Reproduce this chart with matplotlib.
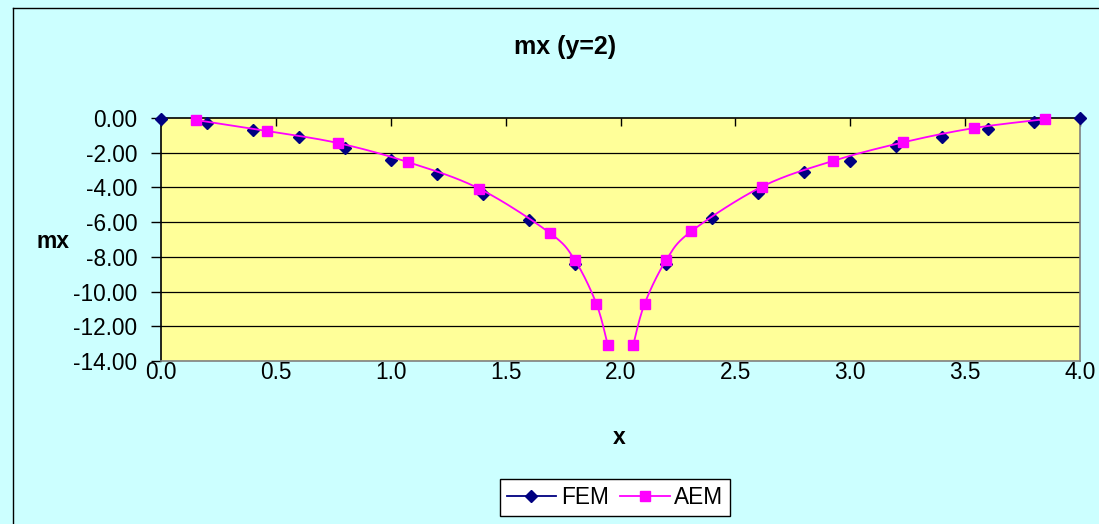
import numpy as np
import matplotlib
matplotlib.use("Agg")
import matplotlib.pyplot as plt
from matplotlib.lines import Line2D
from matplotlib.ticker import FuncFormatter

plt.rcParams['font.family'] = ['Liberation Sans', 'DejaVu Sans']

# ---- data ----
fem_x = [0.0, 0.2, 0.4, 0.6, 0.8, 1.0, 1.2, 1.4, 1.6, 1.8, 2.0,
         2.2, 2.4, 2.6, 2.8, 3.0, 3.2, 3.4, 3.6, 3.8, 4.0]
fem_y = [-0.05, -0.27, -0.69, -1.08, -1.71, -2.42, -3.21, -4.38, -5.85, -8.40, np.nan,
         -8.40, -5.75, -4.30, -3.11, -2.50, -1.60, -1.07, -0.66, -0.21, -0.01]

aem_x_left = [0.154, 0.462, 0.769, 1.077, 1.385, 1.692, 1.800, 1.895, 1.945]
aem_y_left = [-0.12, -0.75, -1.44, -2.55, -4.07, -6.62, -8.16, -10.70, -13.10]
aem_x_right = [2.055, 2.105, 2.200, 2.308, 2.615, 2.923, 3.231, 3.538, 3.846]
aem_y_right = [-13.10, -10.70, -8.16, -6.53, -3.96, -2.48, -1.40, -0.58, -0.07]

x_ticks = [0.0, 0.5, 1.0, 1.5, 2.0, 2.5, 3.0, 3.5, 4.0]
y_ticks = [0, -2, -4, -6, -8, -10, -12, -14]

title = "mx (y=2)"
xlabel = "x"
ylabel = "mx"
series_names = ["FEM", "AEM"]

NAVY = "#000080"
PINK = "#FF00FF"


def smooth(xs, ys, n=20):
    """Excel-like smoothed line (Catmull-Rom as cubic Bezier)."""
    P = np.column_stack([xs, ys]).astype(float)
    m = len(P)
    out = [P[0]]
    t = np.linspace(0, 1, n)[1:]
    for i in range(m - 1):
        p0 = P[i - 1] if i > 0 else P[i]
        p1 = P[i]
        p2 = P[i + 1]
        p3 = P[i + 2] if i + 2 < m else P[i + 1]
        c1 = p1 + (p2 - p0) / 6.0
        c2 = p2 - (p3 - p1) / 6.0
        for tt in t:
            b = ((1 - tt) ** 3) * p1 + 3 * ((1 - tt) ** 2) * tt * c1 \
                + 3 * (1 - tt) * tt ** 2 * c2 + tt ** 3 * p2
            out.append(b)
    out = np.array(out)
    return out[:, 0], out[:, 1]


W, H = 1099, 524
fig = plt.figure(figsize=(W / 100, H / 100), dpi=100, facecolor="#CCFFFF")

# chart-area border (only left/top edges visible in the picture)
bx, by = 12.5 / W, 1 - 7.5 / H
fig.add_artist(Line2D([bx, bx], [0, by], transform=fig.transFigure,
                      color="black", linewidth=1.0))
fig.add_artist(Line2D([bx, 1], [by, by], transform=fig.transFigure,
                      color="black", linewidth=1.0))

L, R, T, B = 161, 1080, 118, 361
ax = fig.add_axes([L / W, 1 - B / H, (R - L) / W, (B - T) / H])
ax.set_facecolor("#FFFF99")
ax.set_xlim(0, 4.0)
ax.set_ylim(-14, 0)

for v in y_ticks[1:-1]:
    ax.axhline(v, color="black", linewidth=0.9, zorder=1)

# FEM markers
ax.plot(fem_x, fem_y, linestyle="none", marker="D", markersize=6.2,
        color=NAVY, markeredgecolor=NAVY, clip_on=False, zorder=3)

# AEM smoothed lines + markers
for xs, ys in [(aem_x_left, aem_y_left), (aem_x_right, aem_y_right)]:
    sx, sy = smooth(xs, ys)
    ax.plot(sx, sy, color=PINK, linewidth=1.3, zorder=4, clip_on=False)
    ax.plot(xs, ys, linestyle="none", marker="s", markersize=6.8,
            color=PINK, markeredgecolor=PINK, clip_on=False, zorder=5)

# spines
ax.spines["top"].set_color("black")
ax.spines["left"].set_color("black")
ax.spines["right"].set_color("#808080")
ax.spines["bottom"].set_color("#808080")
for s in ax.spines.values():
    s.set_linewidth(1.2)
    s.set_zorder(2)

ax.set_xticks(x_ticks)
ax.set_xticklabels([f"{v:.1f}" for v in x_ticks])
ax.tick_params(axis="x", top=True, bottom=False, labelbottom=True,
               labeltop=False, direction="in", length=6, width=1,
               pad=0, labelsize=16.3, colors="black")
ax.set_yticks(y_ticks)
ax.yaxis.set_major_formatter(FuncFormatter(lambda v, p: f"{v:.2f}"))
ax.tick_params(axis="y", direction="out", length=7, width=1, pad=10,
               labelsize=16.3)

fig.text(565 / W, 1 - 47 / H, title, ha="center", va="center",
         fontsize=18, fontweight="bold")
fig.text(53 / W, 1 - 241 / H, ylabel, ha="center", va="center",
         fontsize=16.5, fontweight="bold")
fig.text(619 / W, 1 - 437 / H, xlabel, ha="center", va="center",
         fontsize=16.5, fontweight="bold")

handles = [
    Line2D([], [], color=NAVY, marker="D", markersize=6.2, linewidth=1.3),
    Line2D([], [], color=PINK, marker="s", markersize=6.8, linewidth=1.3),
]
leg = fig.legend(handles, series_names, loc="center",
                 bbox_to_anchor=(615 / W, 1 - 497.5 / H), ncol=2,
                 numpoints=1, fontsize=16.3, frameon=True, fancybox=False,
                 edgecolor="black", facecolor="white", framealpha=1,
                 handlelength=2.2, handletextpad=0.2, columnspacing=0.5,
                 borderpad=0.3, borderaxespad=0)
leg.get_frame().set_linewidth(1.0)

fig.savefig("out.png", dpi=100, facecolor=fig.get_facecolor())
